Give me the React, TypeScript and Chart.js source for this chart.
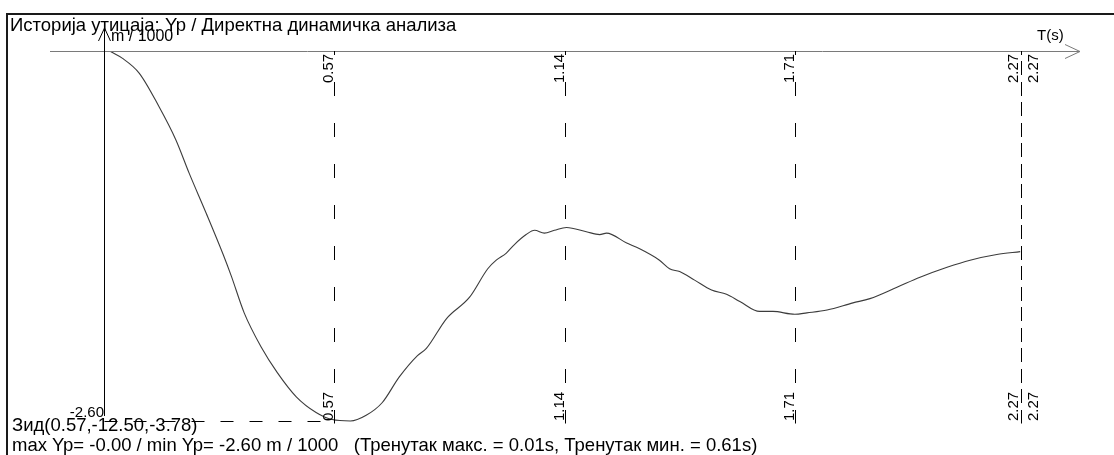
import React, { useEffect, useRef } from "react";
import { Chart, registerables } from "chart.js";

Chart.register(...registerables);

// ---- data ----
const times = [
  0.017, 0.045, 0.087, 0.136, 0.178, 0.211, 0.253, 0.295, 0.315, 0.347, 0.389,
  0.429, 0.476, 0.525, 0.565, 0.61, 0.649, 0.689, 0.731, 0.776, 0.798, 0.848,
  0.905, 0.95, 0.971, 0.996, 1.016, 1.045, 1.066, 1.09, 1.115, 1.145, 1.194,
  1.227, 1.244, 1.294, 1.326, 1.375, 1.4, 1.425, 1.462, 1.504, 1.541, 1.574,
  1.623, 1.656, 1.71, 1.74, 1.79, 1.854, 1.896, 1.963, 2.02, 2.087, 2.144,
  2.21, 2.268,
];
const yp = [
  -0.005, -0.05, -0.155, -0.39, -0.625, -0.86, -1.14, -1.43, -1.58, -1.84,
  -2.08, -2.26, -2.43, -2.54, -2.59, -2.6, -2.56, -2.47, -2.29, -2.14, -2.09,
  -1.88, -1.73, -1.53, -1.47, -1.42, -1.36, -1.29, -1.26, -1.28, -1.26, -1.24,
  -1.27, -1.29, -1.28, -1.35, -1.39, -1.47, -1.53, -1.55, -1.61, -1.68, -1.71,
  -1.76, -1.83, -1.83, -1.85, -1.84, -1.82, -1.77, -1.74, -1.66, -1.59, -1.52,
  -1.47, -1.43, -1.41,
];
const tickTimes = [0.57, 1.14, 1.71];
const tickLabels = ["0.57", "1.14", "1.71"];
const endTime = 2.27;
const endLabel = "2.27";
const minValue = -2.6;
const minTime = 0.61;
const minLabel = "-2.60";

const titleText = "Историја утицаја: Yp / Директна динамичка анализа";
const yUnitText = "m / 1000";
const xUnitText = "T(s)";
const wallText = "Зид(0.57,-12.50,-3.78)";
const summaryText =
  "max Yp= -0.00 / min Yp= -2.60 m / 1000   (Тренутак макс. = 0.01s, Тренутак мин. = 0.61s)";

const FONT = '"Liberation Sans", Arial, sans-serif';

const drawPlugin = {
  id: "legacyAxes",
  beforeDraw(chart: any) {
    const ctx = chart.ctx;
    ctx.save();
    ctx.fillStyle = "#ffffff";
    ctx.fillRect(0, 0, chart.width, chart.height);
    ctx.restore();
  },
  afterDraw(chart: any) {
    const ctx: CanvasRenderingContext2D = chart.ctx;
    const xs = chart.scales.x;
    const ys = chart.scales.y;
    const X = (t: number) => Math.round(xs.getPixelForValue(t)) + 0.5;
    const Y = (v: number) => Math.round(ys.getPixelForValue(v)) + 0.5;
    const x0 = X(0);
    const y0 = Y(0);
    const yMin = Y(minValue);
    ctx.save();

    // frame
    ctx.strokeStyle = "#1a1a1a";
    ctx.lineWidth = 2;
    ctx.beginPath();
    ctx.moveTo(7, 14);
    ctx.lineTo(chart.width, 14);
    ctx.moveTo(7, 13);
    ctx.lineTo(7, chart.height);
    ctx.stroke();

    // x axis
    ctx.lineWidth = 1;
    ctx.strokeStyle = "#7a7a7a";
    ctx.beginPath();
    ctx.moveTo(50, y0);
    ctx.lineTo(1080, y0);
    ctx.moveTo(1065, y0 - 7);
    ctx.lineTo(1080, y0);
    ctx.lineTo(1065, y0 + 7);
    ctx.stroke();

    // y axis
    ctx.strokeStyle = "#000000";
    ctx.beginPath();
    ctx.moveTo(x0, 416);
    ctx.lineTo(x0, 28);
    ctx.moveTo(x0 - 6, 41);
    ctx.lineTo(x0, 28);
    ctx.lineTo(x0 + 6, 41);
    ctx.stroke();

    // dashed verticals
    const vDash = (x: number, offset: number) => {
      ctx.save();
      ctx.strokeStyle = "#000000";
      ctx.setLineDash([14, 27]);
      ctx.lineDashOffset = offset;
      ctx.beginPath();
      ctx.moveTo(x, y0 - 0.5);
      ctx.lineTo(x, yMin + 2);
      ctx.stroke();
      ctx.restore();
    };
    const vLabel = (text: string, xBase: number, yStart: number) => {
      ctx.save();
      ctx.translate(xBase, yStart);
      ctx.rotate(-Math.PI / 2);
      ctx.fillStyle = "#000000";
      ctx.font = `15px ${FONT}`;
      ctx.textAlign = "left";
      ctx.textBaseline = "alphabetic";
      ctx.fillText(text, 0, 0);
      ctx.restore();
    };
    tickTimes.forEach((t, i) => {
      const x = X(t);
      vDash(x, 10);
      vLabel(tickLabels[i], x - 2, 83);
      vLabel(tickLabels[i], x - 2, 421);
    });
    const xe = X(endTime);
    vDash(xe, 10);
    vDash(xe, 31);
    vLabel(endLabel, xe - 4, 83);
    vLabel(endLabel, xe - 4, 421);
    vLabel(endLabel, xe + 16, 83);
    vLabel(endLabel, xe + 16, 421);

    // horizontal dashed min line
    ctx.save();
    ctx.strokeStyle = "#000000";
    ctx.setLineDash([13, 16]);
    ctx.beginPath();
    ctx.moveTo(x0, yMin);
    ctx.lineTo(X(minTime) - 18, yMin);
    ctx.stroke();
    ctx.restore();

    // texts
    ctx.fillStyle = "#000000";
    ctx.textBaseline = "alphabetic";
    ctx.textAlign = "left";
    ctx.font = `18.5px ${FONT}`;
    ctx.fillText(titleText, 10, 31);
    ctx.font = `16px ${FONT}`;
    ctx.fillText(yUnitText, 111, 41);
    ctx.font = `15px ${FONT}`;
    ctx.fillText(xUnitText, 1037, 40);
    ctx.textAlign = "right";
    ctx.fillText(minLabel, 104, 417);
    ctx.textAlign = "left";
    ctx.font = `18.5px ${FONT}`;
    ctx.fillText(wallText, 12, 431);
    ctx.fillText(summaryText, 12, 451);

    ctx.restore();
  },
};

export default function App() {
  const ref = useRef<HTMLCanvasElement | null>(null);
  useEffect(() => {
    if (!ref.current) return;
    const chart = new Chart(ref.current, {
      type: "line",
      data: {
        datasets: [
          {
            data: times.map((t, i) => ({ x: t, y: yp[i] })),
            borderColor: "#3c3c3c",
            borderWidth: 1.1,
            pointRadius: 0,
            cubicInterpolationMode: "monotone",
            fill: false,
            clip: false,
          } as any,
        ],
      },
      options: {
        responsive: false,
        animation: false,
        layout: { padding: { left: 104, right: 93, top: 51, bottom: 34 } },
        scales: {
          x: { type: "linear", min: 0, max: endTime, display: false },
          y: { type: "linear", min: minValue, max: 0, display: false },
        },
        plugins: {
          legend: { display: false },
          tooltip: { enabled: false },
        },
      },
      plugins: [drawPlugin],
    });
    return () => chart.destroy();
  }, []);
  return (
    <div style={{ position: "fixed", left: 0, top: 0, width: 1114, height: 455 }}>
      <canvas ref={ref} width={1114} height={455} style={{ display: "block" }} />
    </div>
  );
}
